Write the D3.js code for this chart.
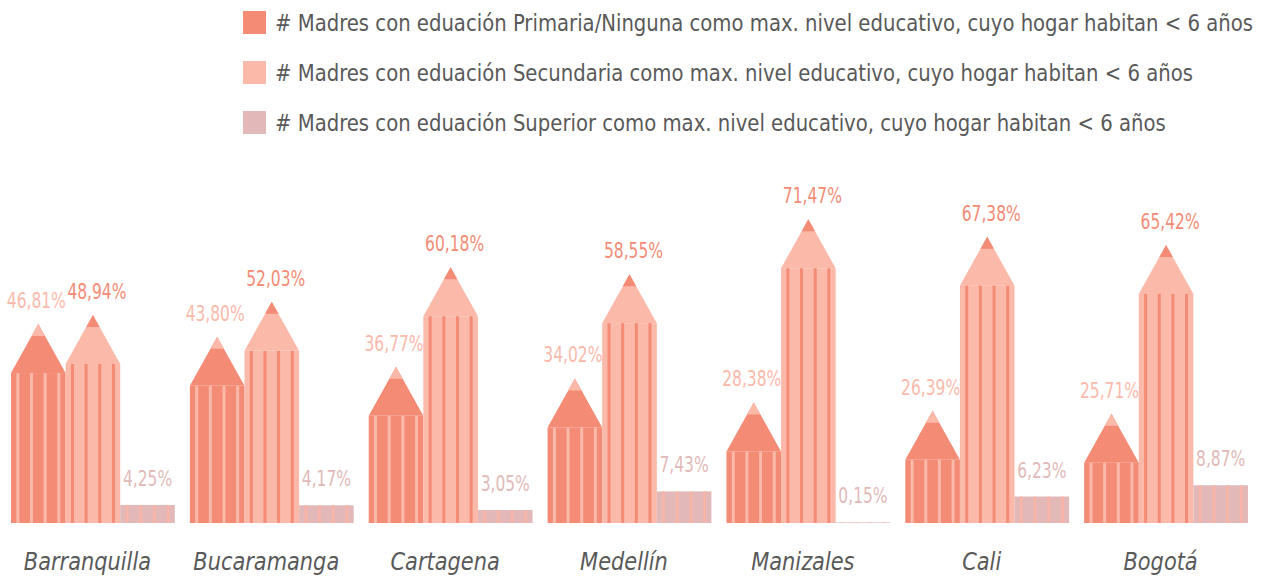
<!DOCTYPE html>
<html>
<head>
<meta charset="utf-8">
<style>
body { margin: 0; background: #fff; }
svg text { font-family: "DejaVu Sans Condensed", "Liberation Sans", sans-serif; }
.legend text { fill: #595959; font-size: 23px; }
.cat text { fill: #595959; font-size: 25px; font-style: italic; }
.val { font-size: 21px; }
</style>
</head>
<body>
<svg id="chart" width="1267" height="578"></svg>
<script src="https://d3js.org/d3.v7.min.js"></script>
<script>

var cities = ["Barranquilla", "Bucaramanga", "Cartagena", "Medellín", "Manizales", "Cali", "Bogotá"];
var primaria = [46.81, 43.80, 36.77, 34.02, 28.38, 26.39, 25.71];
var secundaria = [48.94, 52.03, 60.18, 58.55, 71.47, 67.38, 65.42];
var superior = [4.25, 4.17, 3.05, 7.43, 0.15, 6.23, 8.87];
var seriesNames = [
  "# Madres con eduación Primaria/Ninguna como max. nivel educativo, cuyo hogar habitan < 6 años",
  "# Madres con eduación Secundaria como max. nivel educativo, cuyo hogar habitan < 6 años",
  "# Madres con eduación Superior como max. nivel educativo, cuyo hogar habitan < 6 años"
];

var dark = "#f38b75", light = "#fbb9aa", pink = "#e2b9b8";
var fills = [dark, light, pink];
var stripeCol = [light, dark, "#f7b4a8"];
var leadCol = [light, dark, null];
var labelCol = [light, dark, pink];

var svg = d3.select("#chart");
var base = 523;

// squeeze text horizontally, the original font is a narrow one
function narrow(sel, k) {
  sel.each(function() {
    var w = this.getComputedTextLength();
    d3.select(this).attr("textLength", w * k).attr("lengthAdjust", "spacingAndGlyphs");
  });
}

var x0 = d3.scaleBand().domain(cities).range([11, 1248]).paddingInner(0.084).paddingOuter(0);
var x1 = d3.scaleBand().domain([0, 1, 2]).range([0, x0.bandwidth()]);
var y = d3.scaleLinear().domain([0, 100]).range([base, base - 425]);

var tipH = 49, leadH = 12;

// legend
var leg = svg.append("g").attr("class", "legend");
seriesNames.forEach(function(n, i) {
  var g = leg.append("g").attr("transform", "translate(243," + (11 + i * 50) + ")");
  g.append("rect").attr("width", 23).attr("height", 23).attr("fill", fills[i]);
  g.append("text").attr("x", 32).attr("y", 20).text(n);
});
var first = leg.select("text").node().getComputedTextLength();
narrow(leg.selectAll("text"), 978 / first);

var data = [];
cities.forEach(function(c, ci) {
  [primaria[ci], secundaria[ci], superior[ci]].forEach(function(v, s) {
    data.push({city: c, s: s, v: v});
  });
});

var bars = svg.selectAll(".pencil").data(data).enter().append("g")
  .attr("class", "pencil")
  .attr("transform", function(d) { return "translate(" + (x0(d.city) + x1(d.s)) + ",0)"; });

var labelDx = [-2, 4, 0];

bars.each(function(d) {
  var g = d3.select(this);
  var w = x1.bandwidth();
  var top = y(d.v);
  var bodyTop = d.s < 2 ? top + tipH : top;
  g.append("rect").attr("x", 0).attr("y", bodyTop).attr("width", w).attr("height", base - bodyTop).attr("fill", fills[d.s]);
  if (d.s < 2) {
    g.append("path").attr("d", "M0," + bodyTop + "L" + w + "," + bodyTop + "L" + (w / 2) + "," + top + "Z").attr("fill", fills[d.s]);
    var f = leadH / tipH;
    g.append("path").attr("d", "M" + (w / 2 - w / 2 * f) + "," + (top + leadH) + "L" + (w / 2 + w / 2 * f) + "," + (top + leadH) + "L" + (w / 2) + "," + top + "Z").attr("fill", leadCol[d.s]);
  }
  for (var i = 0; i < 4; i++) {
    g.append("rect").attr("x", (i + 0.5) / 4 * w - 1.5).attr("y", bodyTop).attr("width", 3).attr("height", base - bodyTop).attr("fill", stripeCol[d.s]);
  }
  g.append("text").attr("class", "val")
    .attr("x", w / 2 + labelDx[d.s]).attr("y", top - (d.s < 2 ? 16 : 19))
    .attr("text-anchor", "middle").attr("fill", labelCol[d.s])
    .text(d3.format(".2f")(d.v).replace(".", ",") + "%");
});
narrow(svg.selectAll(".val"), 0.82);

var cat = svg.append("g").attr("class", "cat");
cities.forEach(function(c) {
  cat.append("text").attr("x", x0(c) + x0.bandwidth() / 2 - 5.5).attr("y", 570).attr("text-anchor", "middle").text(c);
});
narrow(cat.selectAll("text"), 0.93);
</script>
</body>
</html>
